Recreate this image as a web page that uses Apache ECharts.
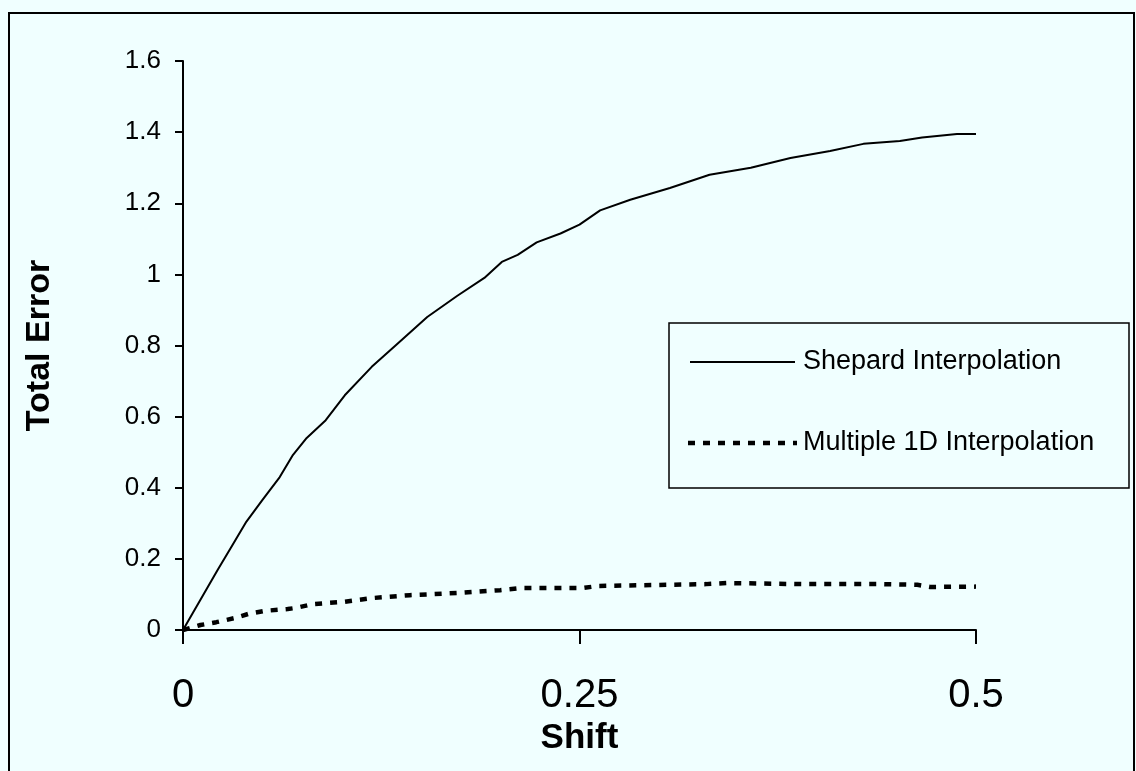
<!DOCTYPE html>
<html>
<head>
<meta charset="utf-8">
<script src="https://cdn.jsdelivr.net/npm/echarts@6/dist/echarts.min.js"></script>
<style>
html,body{margin:0;padding:0;background:#f0ffff;}
#chart{width:1136px;height:771px;}
</style>
</head>
<body>
<div id="chart"></div>
<script>
// ---- data ----
var seriesNames = ["Shepard Interpolation", "Multiple 1D Interpolation"];
var xTicks = [0, 0.25, 0.5];
var yTicks = [0, 0.2, 0.4, 0.6, 0.8, 1, 1.2, 1.4, 1.6];
var shepardX = [0, 0.011, 0.022, 0.03, 0.04, 0.05, 0.061, 0.069, 0.078, 0.09, 0.102, 0.119, 0.134, 0.154, 0.173, 0.19, 0.201, 0.211, 0.223, 0.238, 0.25, 0.263, 0.282, 0.307, 0.332, 0.358, 0.383, 0.408, 0.429, 0.452, 0.466, 0.488, 0.5];
var shepardY = [0, 0.085, 0.17, 0.23, 0.305, 0.365, 0.43, 0.49, 0.54, 0.59, 0.66, 0.74, 0.8, 0.88, 0.94, 0.99, 1.035, 1.055, 1.09, 1.115, 1.14, 1.18, 1.21, 1.243, 1.28, 1.3, 1.327, 1.347, 1.367, 1.375, 1.385, 1.395, 1.395];
var multiX = [0, 0.011, 0.021, 0.033, 0.041, 0.052, 0.066, 0.071, 0.082, 0.101, 0.12, 0.143, 0.173, 0.2, 0.213, 0.252, 0.262, 0.33, 0.343, 0.391, 0.441, 0.463, 0.471, 0.5];
var multiY = [0, 0.014, 0.022, 0.034, 0.045, 0.054, 0.059, 0.062, 0.073, 0.079, 0.09, 0.098, 0.104, 0.112, 0.118, 0.118, 0.124, 0.129, 0.132, 0.129, 0.129, 0.127, 0.121, 0.122];

function pairs(xs, ys){ return xs.map(function(x,i){ return [x, ys[i]]; }); }

var font = "Liberation Sans, Arial, sans-serif";
var solidStyle = {color: '#000', width: 2};
var dashStyle = {color: '#000', width: 4.5, type: [7, 8], cap: 'butt'};

var legendGraphics = [
  {type: 'rect', silent: true, shape: {x: 669, y: 323, width: 460, height: 165},
   style: {fill: 'none', stroke: '#000', lineWidth: 1.5}},
  {type: 'line', silent: true, shape: {x1: 690, y1: 362, x2: 795, y2: 362},
   style: {stroke: '#000', lineWidth: solidStyle.width}},
  {type: 'line', silent: true, shape: {x1: 688, y1: 443, x2: 797, y2: 443},
   style: {stroke: '#000', lineWidth: dashStyle.width, lineDash: [7, 8], lineCap: 'butt'}},
  {type: 'text', silent: true, x: 803, y: 362,
   style: {text: seriesNames[0], font: '27px ' + font, fill: '#000', verticalAlign: 'middle', align: 'left'}},
  {type: 'text', silent: true, x: 803, y: 443,
   style: {text: seriesNames[1], font: '27px ' + font, fill: '#000', verticalAlign: 'middle', align: 'left'}}
];

var chart = echarts.init(document.getElementById('chart'), null, {renderer:'canvas'});
chart.setOption({
  animation: false,
  backgroundColor: '#f0ffff',
  textStyle: {fontFamily: font, color: '#000'},
  graphic: [{
    type: 'rect', silent: true, z: -1,
    shape: {x: 9, y: 13, width: 1125, height: 800},
    style: {fill: 'none', stroke: '#000', lineWidth: 2}
  }].concat(legendGraphics),
  grid: {left: 183, top: 61, right: 160, bottom: 141, containLabel: false},
  xAxis: {
    type: 'value', min: 0, max: 0.5, interval: 0.25,
    name: 'Shift', nameLocation: 'middle', nameGap: 88,
    nameTextStyle: {fontFamily: font, fontSize: 35, fontWeight: 'bold', color: '#000'},
    axisLine: {show: true, onZero: false, lineStyle: {color: '#000', width: 2}},
    axisTick: {show: true, inside: false, length: 14, lineStyle: {color: '#000', width: 2}},
    axisLabel: {fontFamily: font, fontSize: 40, color: '#000', margin: 46,
      formatter: function(v){ return xTicks.indexOf(v) >= 0 ? String(v) : ''; }},
    splitLine: {show: false}
  },
  yAxis: {
    type: 'value', min: 0, max: 1.6, interval: 0.2,
    name: 'Total Error', nameLocation: 'middle', nameGap: 126,
    nameTextStyle: {fontFamily: font, fontSize: 34, fontWeight: 'bold', color: '#000'},
    axisLine: {show: true, lineStyle: {color: '#000', width: 2}},
    axisTick: {show: true, inside: false, length: 8, lineStyle: {color: '#000', width: 2}},
    axisLabel: {fontFamily: font, fontSize: 26, color: '#000', margin: 22,
      formatter: function(v){ var r = Math.round(v*10)/10; return yTicks.indexOf(r) >= 0 ? String(r) : ''; }},
    splitLine: {show: false}
  },
  series: [{
    name: seriesNames[0], type: 'line', data: pairs(shepardX, shepardY),
    showSymbol: false, symbol: 'none', smooth: false,
    lineStyle: solidStyle, itemStyle: {color: '#000'}
  }, {
    name: seriesNames[1], type: 'line', data: pairs(multiX, multiY),
    showSymbol: false, symbol: 'none', smooth: false,
    lineStyle: dashStyle, itemStyle: {color: '#000'}
  }]
});
</script>
</body>
</html>
